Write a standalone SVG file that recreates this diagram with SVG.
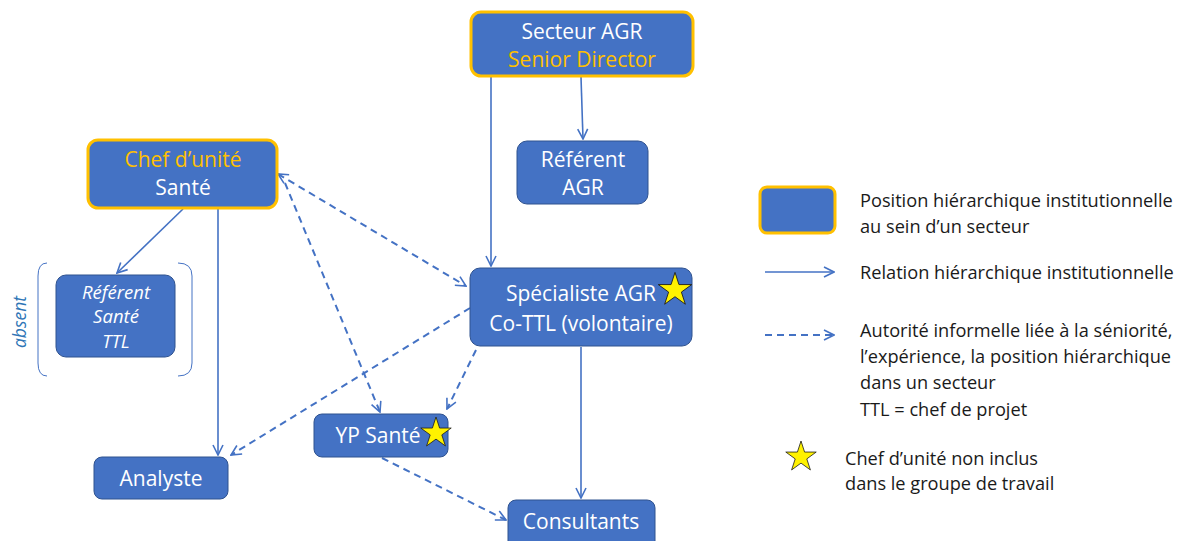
<svg xmlns="http://www.w3.org/2000/svg" width="1178" height="541" viewBox="0 0 1178 541">
  <style>
    .box { fill: #4472C4; stroke: #2F528F; stroke-width: 1; }
    .boss { fill: #4472C4; stroke: #FFC000; stroke-width: 3; }
    .t { font-family: "Open Sans", Lato, sans-serif; font-size: 21px; fill: #FFFFFF; text-anchor: middle; }
    .o { fill: #FFC000; }
    .it { font-style: italic; font-size: 18.5px; }
    .lg { font-family: "Open Sans", Lato, sans-serif; font-size: 18.2px; fill: #1A1A1A; }
    .solid { fill: none; stroke: #4472C4; stroke-width: 1.6; }
    .dash { fill: none; stroke: #4472C4; stroke-width: 2; stroke-dasharray: 7 5; }
    .star { fill: #FFF200; stroke: #1A1A1A; stroke-width: 0.8; stroke-linejoin: miter; }
  </style>
  <defs>
    <marker id="arr" markerUnits="userSpaceOnUse" viewBox="0 0 12 12" refX="11" refY="6" markerWidth="12" markerHeight="12" orient="auto-start-reverse">
      <path d="M1,1 L11,6 L1,11" fill="none" stroke="#4472C4" stroke-width="1.6"/>
    </marker>
    <path id="starShape" d="M0,-16 L3.59,-4.94 L15.22,-4.94 L5.80,1.89 L9.40,12.94 L0,6.1 L-9.40,12.94 L-5.80,1.89 L-15.22,-4.94 L-3.59,-4.94 Z"/>
  </defs>

  <!-- connectors -->
  <g id="connectors">
    <line class="solid" x1="491" y1="77" x2="491" y2="266" marker-end="url(#arr)"/>
    <line class="solid" x1="581" y1="77" x2="583" y2="139" marker-end="url(#arr)"/>
    <line class="solid" x1="183" y1="209" x2="117" y2="273" marker-end="url(#arr)"/>
    <line class="solid" x1="218" y1="209" x2="218" y2="455" marker-end="url(#arr)"/>
    <line class="solid" x1="581" y1="347" x2="581" y2="498" marker-end="url(#arr)"/>
    <line class="dash" x1="278" y1="174" x2="466" y2="286" marker-start="url(#arr)" marker-end="url(#arr)"/>
    <line class="dash" x1="285" y1="183" x2="380" y2="412" marker-end="url(#arr)"/>
    <line class="dash" x1="470" y1="308" x2="231" y2="455" marker-end="url(#arr)"/>
    <line class="dash" x1="476" y1="350" x2="447" y2="409" marker-end="url(#arr)"/>
    <line class="dash" x1="382" y1="458" x2="506" y2="520" marker-end="url(#arr)"/>
  </g>

  <g id="secteur-agr">
    <rect class="boss" x="471" y="12" width="222" height="64" rx="10"/>
    <text class="t" x="582" y="39">Secteur AGR</text>
    <text class="t o" x="582" y="67">Senior Director</text>
  </g>

  <g id="chef-unite">
    <rect class="boss" x="88" y="140" width="189" height="68" rx="10"/>
    <text class="t o" x="183" y="167">Chef d’unité</text>
    <text class="t" x="183" y="195">Santé</text>
  </g>

  <g id="referent-agr">
    <rect class="box" x="517" y="141" width="131" height="63" rx="10"/>
    <text class="t" x="583" y="167">Référent</text>
    <text class="t" x="583" y="195">AGR</text>
  </g>

  <g id="referent-sante">
    <path d="M47,263 Q38,263 38,276 L38,363 Q38,376 47,376" fill="none" stroke="#4472C4" stroke-width="1"/>
    <path d="M178,263 Q192,263 192,276 L192,363 Q192,376 178,376" fill="none" stroke="#4472C4" stroke-width="1"/>
    <rect class="box" x="56" y="275" width="119" height="82" rx="10"/>
    <text class="t it" x="116" y="299">Référent</text>
    <text class="t it" x="116" y="323">Santé</text>
    <text class="t it" x="116" y="348">TTL</text>
    <text x="26" y="322" transform="rotate(-90 26 322)" font-family="'Open Sans', Lato, sans-serif" font-size="17.5" font-style="italic" fill="#2E75B6" text-anchor="middle">absent</text>
  </g>

  <g id="specialiste-agr">
    <rect class="box" x="470" y="268" width="222" height="78" rx="10"/>
    <text class="t" x="581" y="301">Spécialiste AGR</text>
    <text class="t" x="581" y="331">Co-TTL (volontaire)</text>
    <use href="#starShape" class="star" transform="translate(675 290) scale(1.1)"/>
  </g>

  <g id="yp-sante">
    <rect class="box" x="314" y="414" width="134" height="43" rx="8"/>
    <text class="t" x="378" y="443">YP Santé</text>
    <use href="#starShape" class="star" transform="translate(436 433)"/>
  </g>

  <g id="analyste">
    <rect class="box" x="94" y="457" width="134" height="42" rx="8"/>
    <text class="t" x="161" y="486">Analyste</text>
  </g>

  <g id="consultants">
    <rect class="box" x="508" y="500" width="147" height="50" rx="8"/>
    <text class="t" x="581" y="529">Consultants</text>
  </g>

  <!-- legend -->
  <g id="legend">
    <rect class="boss" x="760" y="187" width="75" height="46" rx="7"/>
    <text class="lg" x="860" y="207">Position hiérarchique institutionnelle</text>
    <text class="lg" x="860" y="233">au sein d’un secteur</text>
    <line class="solid" x1="765" y1="272" x2="834" y2="272" marker-end="url(#arr)"/>
    <text class="lg" x="860" y="279">Relation hiérarchique institutionnelle</text>
    <line class="dash" x1="765" y1="335" x2="834" y2="335" stroke-width="1.6" marker-end="url(#arr)"/>
    <text class="lg" x="860" y="337">Autorité informelle liée à la séniorité,</text>
    <text class="lg" x="860" y="363">l’expérience, la position hiérarchique</text>
    <text class="lg" x="860" y="389">dans un secteur</text>
    <text class="lg" x="860" y="416">TTL = chef de projet</text>
    <use href="#starShape" class="star" transform="translate(801 457)"/>
    <text class="lg" x="845" y="465">Chef d’unité non inclus</text>
    <text class="lg" x="845" y="490">dans le groupe de travail</text>
  </g>
</svg>
